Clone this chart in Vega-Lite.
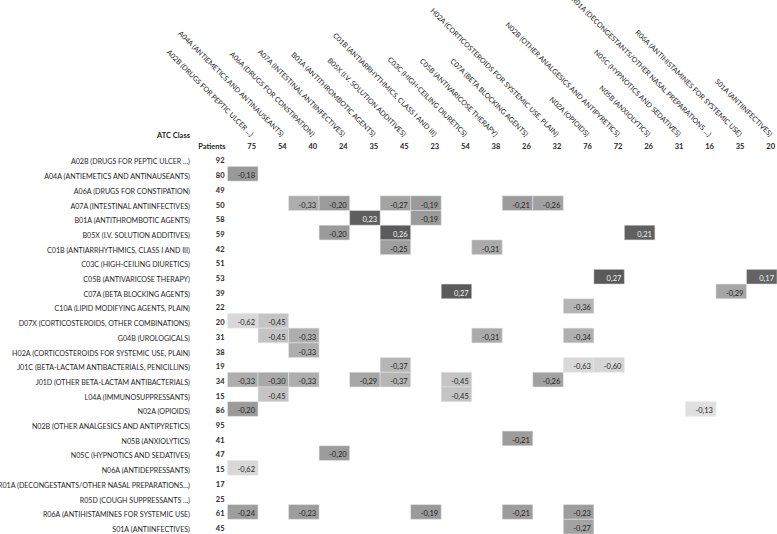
{
  "$schema": "https://vega.github.io/schema/vega-lite/v6.json",
  "autosize": "none",
  "padding": {"left": 197, "top": 137, "right": 0, "bottom": 0},
  "width": 580,
  "height": 397,
  "background": "white",
  "config": {
    "view": {"stroke": null},
    "locale": {"number": {"decimal": ",", "thousands": ".", "grouping": [3], "currency": ["", ""], "minus": "-"}},
    "text": {"font": "Lato", "fontSize": 7.5, "color": "#262626"}
  },
  "datasets": {
    "rows": [
      {"code": "A02B", "label": "A02B (DRUGS FOR PEPTIC ULCER ...)", "n": 92},
      {"code": "A04A", "label": "A04A (ANTIEMETICS AND ANTINAUSEANTS)", "n": 80},
      {"code": "A06A", "label": "A06A (DRUGS FOR CONSTIPATION)", "n": 49},
      {"code": "A07A", "label": "A07A (INTESTINAL ANTIINFECTIVES)", "n": 50},
      {"code": "B01A", "label": "B01A (ANTITHROMBOTIC AGENTS)", "n": 58},
      {"code": "B05X", "label": "B05X (I.V. SOLUTION ADDITIVES)", "n": 59},
      {"code": "C01B", "label": "C01B (ANTIARRHYTHMICS, CLASS I AND III)", "n": 42},
      {"code": "C03C", "label": "C03C (HIGH-CEILING DIURETICS)", "n": 51},
      {"code": "C05B", "label": "C05B (ANTIVARICOSE THERAPY)", "n": 53},
      {"code": "C07A", "label": "C07A (BETA BLOCKING AGENTS)", "n": 39},
      {"code": "C10A", "label": "C10A (LIPID MODIFYING AGENTS, PLAIN)", "n": 22},
      {"code": "D07X", "label": "D07X (CORTICOSTEROIDS, OTHER COMBINATIONS)", "n": 20},
      {"code": "G04B", "label": "G04B (UROLOGICALS)", "n": 31},
      {"code": "H02A", "label": "H02A (CORTICOSTEROIDS FOR SYSTEMIC USE, PLAIN)", "n": 38},
      {"code": "J01C", "label": "J01C (BETA-LACTAM ANTIBACTERIALS, PENICILLINS)", "n": 19},
      {"code": "J01D", "label": "J01D (OTHER BETA-LACTAM ANTIBACTERIALS)", "n": 34},
      {"code": "L04A", "label": "L04A (IMMUNOSUPPRESSANTS)", "n": 15},
      {"code": "N02A", "label": "N02A (OPIOIDS)", "n": 86},
      {"code": "N02B", "label": "N02B (OTHER ANALGESICS AND ANTIPYRETICS)", "n": 95},
      {"code": "N05B", "label": "N05B (ANXIOLYTICS)", "n": 41},
      {"code": "N05C", "label": "N05C (HYPNOTICS AND SEDATIVES)", "n": 47},
      {"code": "N06A", "label": "N06A (ANTIDEPRESSANTS)", "n": 15},
      {"code": "R01A", "label": "R01A (DECONGESTANTS/OTHER NASAL PREPARATIONS...)", "n": 17},
      {"code": "R05D", "label": "R05D (COUGH SUPPRESSANTS ...)", "n": 25},
      {"code": "R06A", "label": "R06A (ANTIHISTAMINES FOR SYSTEMIC USE)", "n": 61},
      {"code": "S01A", "label": "S01A (ANTIINFECTIVES)", "n": 45}
    ],
    "cols": [
      {"code": "A02B", "label": "A02B (DRUGS FOR PEPTIC ULCER ...)", "n": 75},
      {"code": "A04A", "label": "A04A (ANTIEMETICS AND ANTINAUSEANTS)", "n": 54},
      {"code": "A06A", "label": "A06A (DRUGS FOR CONSTIPATION)", "n": 40},
      {"code": "A07A", "label": "A07A (INTESTINAL ANTIINFECTIVES)", "n": 24},
      {"code": "B01A", "label": "B01A (ANTITHROMBOTIC AGENTS)", "n": 35},
      {"code": "B05X", "label": "B05X (I.V. SOLUTION ADDITIVES)", "n": 45},
      {"code": "C01B", "label": "C01B (ANTIARRHYTHMICS, CLASS I AND III)", "n": 23},
      {"code": "C03C", "label": "C03C (HIGH-CEILING DIURETICS)", "n": 54},
      {"code": "C05B", "label": "C05B (ANTIVARICOSE THERAPY)", "n": 38},
      {"code": "C07A", "label": "C07A (BETA BLOCKING AGENTS)", "n": 26},
      {"code": "H02A", "label": "H02A (CORTICOSTEROIDS FOR SYSTEMIC USE, PLAIN)", "n": 32},
      {"code": "N02A", "label": "N02A (OPIOIDS)", "n": 76},
      {"code": "N02B", "label": "N02B (OTHER ANALGESICS AND ANTIPYRETICS)", "n": 72},
      {"code": "N05B", "label": "N05B (ANXIOLYTICS)", "n": 26},
      {"code": "N05C", "label": "N05C (HYPNOTICS AND SEDATIVES)", "n": 31},
      {"code": "R01A", "label": "R01A (DECONGESTANTS/OTHER NASAL PREPARATIONS ...)", "n": 16},
      {"code": "R06A", "label": "R06A (ANTIHISTAMINES FOR SYSTEMIC USE)", "n": 35},
      {"code": "S01A", "label": "S01A (ANTIINFECTIVES)", "n": 20}
    ],
    "cells": [
      {"r": "A04A", "c": "A02B", "v": -0.18},
      {"r": "A07A", "c": "A06A", "v": -0.33},
      {"r": "A07A", "c": "A07A", "v": -0.20},
      {"r": "A07A", "c": "B05X", "v": -0.27},
      {"r": "A07A", "c": "C01B", "v": -0.19},
      {"r": "A07A", "c": "C07A", "v": -0.21},
      {"r": "A07A", "c": "H02A", "v": -0.26},
      {"r": "B01A", "c": "B01A", "v": 0.23},
      {"r": "B01A", "c": "C01B", "v": -0.19},
      {"r": "B05X", "c": "A07A", "v": -0.20},
      {"r": "B05X", "c": "B05X", "v": 0.26},
      {"r": "B05X", "c": "N05B", "v": 0.21},
      {"r": "C01B", "c": "B05X", "v": -0.25},
      {"r": "C01B", "c": "C05B", "v": -0.31},
      {"r": "C05B", "c": "N02B", "v": 0.27},
      {"r": "C05B", "c": "S01A", "v": 0.17},
      {"r": "C07A", "c": "C03C", "v": 0.27},
      {"r": "C07A", "c": "R06A", "v": -0.29},
      {"r": "C10A", "c": "N02A", "v": -0.36},
      {"r": "D07X", "c": "A02B", "v": -0.62},
      {"r": "D07X", "c": "A04A", "v": -0.45},
      {"r": "G04B", "c": "A04A", "v": -0.45},
      {"r": "G04B", "c": "A06A", "v": -0.33},
      {"r": "G04B", "c": "C05B", "v": -0.31},
      {"r": "G04B", "c": "N02A", "v": -0.34},
      {"r": "H02A", "c": "A06A", "v": -0.33},
      {"r": "J01C", "c": "B05X", "v": -0.37},
      {"r": "J01C", "c": "N02A", "v": -0.63},
      {"r": "J01C", "c": "N02B", "v": -0.60},
      {"r": "J01D", "c": "A02B", "v": -0.33},
      {"r": "J01D", "c": "A04A", "v": -0.30},
      {"r": "J01D", "c": "A06A", "v": -0.33},
      {"r": "J01D", "c": "B01A", "v": -0.29},
      {"r": "J01D", "c": "B05X", "v": -0.37},
      {"r": "J01D", "c": "C03C", "v": -0.45},
      {"r": "J01D", "c": "H02A", "v": -0.26},
      {"r": "L04A", "c": "A04A", "v": -0.45},
      {"r": "L04A", "c": "C03C", "v": -0.45},
      {"r": "N02A", "c": "A02B", "v": -0.20},
      {"r": "N02A", "c": "R01A", "v": -0.13},
      {"r": "N05B", "c": "C07A", "v": -0.21},
      {"r": "N05C", "c": "A07A", "v": -0.20},
      {"r": "N06A", "c": "A02B", "v": -0.62},
      {"r": "R06A", "c": "A02B", "v": -0.24},
      {"r": "R06A", "c": "A06A", "v": -0.23},
      {"r": "R06A", "c": "C01B", "v": -0.19},
      {"r": "R06A", "c": "C07A", "v": -0.21},
      {"r": "R06A", "c": "N02A", "v": -0.23},
      {"r": "S01A", "c": "N02A", "v": -0.27}
    ],
    "heads": [{"t": "Patients", "a": "ATC Class"}]
  },
  "layer": [
    {
      "data": {"name": "cells"},
      "mark": {"type": "rect", "stroke": "#e6e6e6", "strokeWidth": 0.5},
      "encoding": {
        "x": {"field": "c", "type": "nominal", "axis": null,
              "scale": {"type": "band", "paddingInner": 0, "paddingOuter": 0,
                        "domain": ["Patients", "A02B", "A04A", "A06A", "A07A", "B01A", "B05X", "C01B", "C03C", "C05B", "C07A", "H02A", "N02A", "N02B", "N05B", "N05C", "R01A", "R06A", "S01A"]}},
        "y": {"field": "r", "type": "nominal", "axis": null,
              "scale": {"type": "band", "paddingInner": 0, "paddingOuter": 0,
                        "domain": ["hdr", "A02B", "A04A", "A06A", "A07A", "B01A", "B05X", "C01B", "C03C", "C05B", "C07A", "C10A", "D07X", "G04B", "H02A", "J01C", "J01D", "L04A", "N02A", "N02B", "N05B", "N05C", "N06A", "R01A", "R05D", "R06A", "S01A"]}},
        "color": {"field": "v", "type": "quantitative", "legend": null,
                  "scale": {"type": "linear", "interpolate": "rgb",
                            "domain": [-0.63, -0.45, -0.36, -0.3, -0.25, -0.18, -0.13, 0.17, 0.27],
                            "range": ["#d9d9d9", "#c4c4c4", "#b4b4b4", "#a8a8a8", "#9f9f9f", "#999999", "#e0e0e0", "#646464", "#5a5a5a"]}}
      }
    },
    {
      "data": {"name": "cells"},
      "mark": {"type": "text", "align": "right", "baseline": "bottom", "dx": -3, "dy": -1},
      "encoding": {
        "x": {"field": "c", "type": "nominal", "bandPosition": 1},
        "y": {"field": "r", "type": "nominal", "bandPosition": 1},
        "text": {"field": "v", "type": "quantitative", "format": ".2f"},
        "color": {"condition": {"test": "datum.v > 0", "value": "#f2f2f2"}, "value": "#262626"}
      }
    },
    {
      "data": {"name": "rows"},
      "mark": {"type": "text", "align": "right", "baseline": "bottom", "dx": -7, "dy": -1, "fontSize": 7.1},
      "encoding": {
        "x": {"datum": "Patients", "type": "nominal", "bandPosition": 0},
        "y": {"field": "code", "type": "nominal", "bandPosition": 1},
        "text": {"field": "label"},
        "fontWeight": {"condition": {"test": "datum.code == 'C07A'", "value": "bold"}, "value": "normal"}
      }
    },
    {
      "data": {"name": "rows"},
      "mark": {"type": "text", "align": "right", "baseline": "bottom", "dx": -3, "dy": -1, "fontWeight": "bold"},
      "encoding": {
        "x": {"datum": "Patients", "type": "nominal", "bandPosition": 1},
        "y": {"field": "code", "type": "nominal", "bandPosition": 1},
        "text": {"field": "n", "type": "quantitative"}
      }
    },
    {
      "data": {"name": "cols"},
      "mark": {"type": "text", "align": "right", "baseline": "bottom", "dx": -2, "dy": -1, "fontWeight": "bold"},
      "encoding": {
        "x": {"field": "code", "type": "nominal", "bandPosition": 1},
        "y": {"datum": "hdr", "type": "nominal", "bandPosition": 1},
        "text": {"field": "n", "type": "quantitative"}
      }
    },
    {
      "data": {"name": "cols"},
      "mark": {"type": "text", "align": "right", "baseline": "middle", "angle": 45, "dy": -2, "fontSize": 7.1},
      "encoding": {
        "x": {"field": "code", "type": "nominal", "bandPosition": 0.75},
        "y": {"datum": "hdr", "type": "nominal", "bandPosition": 0},
        "text": {"field": "label"},
        "fontWeight": {"condition": {"test": "datum.code == 'C03C'", "value": "bold"}, "value": "normal"}
      }
    },
    {
      "data": {"name": "heads"},
      "mark": {"type": "text", "align": "right", "baseline": "bottom", "dx": -2, "dy": -1, "fontWeight": "bold"},
      "encoding": {
        "x": {"datum": "Patients", "type": "nominal", "bandPosition": 1},
        "y": {"datum": "hdr", "type": "nominal", "bandPosition": 1},
        "text": {"field": "t"}
      }
    },
    {
      "data": {"name": "heads"},
      "mark": {"type": "text", "align": "right", "baseline": "bottom", "dx": -7, "dy": 3, "fontWeight": "bold"},
      "encoding": {
        "x": {"datum": "Patients", "type": "nominal", "bandPosition": 0},
        "y": {"datum": "hdr", "type": "nominal", "bandPosition": 0},
        "text": {"field": "a"}
      }
    }
  ]
}
